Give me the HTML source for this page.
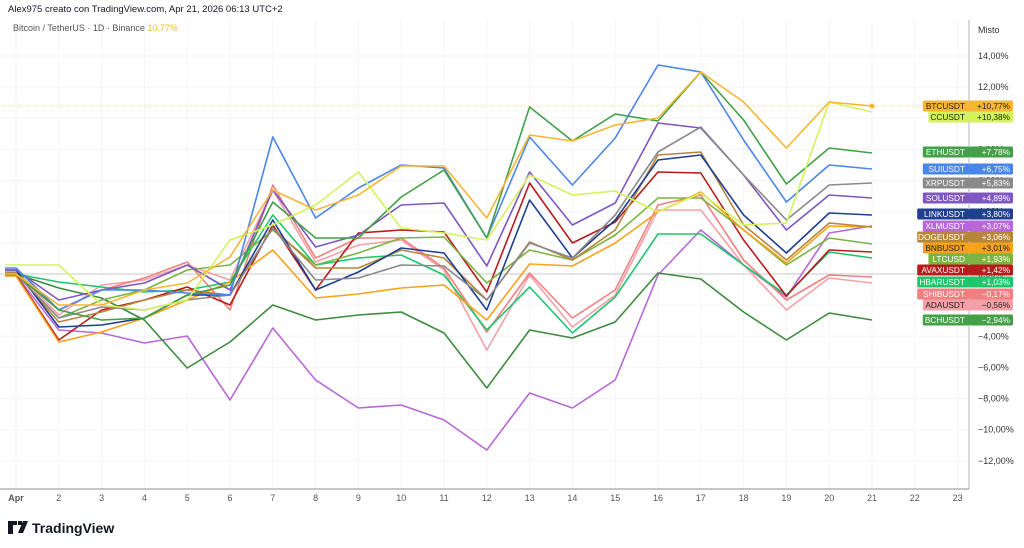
<!DOCTYPE html>
<html><head><meta charset="utf-8"><style>
html,body{margin:0;padding:0;background:#fff;width:1024px;height:548px;overflow:hidden;font-family:"Liberation Sans",sans-serif;}
</style></head><body>
<svg id="s" width="1024" height="548" viewBox="0 0 1024 548" xmlns="http://www.w3.org/2000/svg" font-family="Liberation Sans, sans-serif">
<rect width="1024" height="548" fill="#fff"/>
<g id="grid"></g>
<line x1="0" y1="274" x2="969" y2="274" stroke="#c9c9c9" stroke-width="1"/>
<line x1="0" y1="106" x2="969" y2="106" stroke="#f7dca0" stroke-width="1" stroke-dasharray="1,1"/>
<g id="lines" fill="none" stroke-width="1.6" stroke-linejoin="round"></g>
<circle cx="872" cy="106" r="2.5" fill="#f5b731"/>
<line x1="969" y1="20" x2="969" y2="489" stroke="#b2b5be"/>
<line x1="0" y1="489" x2="969" y2="489" stroke="#8a8e99"/>
<g id="ylab" font-size="9" fill="#333"></g>
<g id="xlab" font-size="9" fill="#555"></g>
<g id="tags" font-size="8.3"></g>
<text x="8" y="12" font-size="9.5" fill="#131722">Alex975 creato con TradingView.com, Apr 21, 2026 06:13 UTC+2</text>
<text x="13" y="31" font-size="9" fill="#555">Bitcoin / TetherUS · 1D · Binance <tspan fill="#f5b731">10,77%</tspan></text>
<text x="978" y="33" font-size="9" fill="#333">Misto</text>
<g transform="translate(8,521)"><path d="M0 0h9v4H5v9H0V0zM10 0h4v4h-4z M15 0h5l-5 12h-5z" fill="#131722"/></g>
<text x="32" y="533" font-size="14" font-weight="bold" fill="#131722">TradingView</text>
</svg>
<script>
const NS="http://www.w3.org/2000/svg";
function el(t,a,p,txt){const e=document.createElementNS(NS,t);for(const k in a)e.setAttribute(k,a[k]);if(txt!==undefined)e.textContent=txt;document.getElementById(p).appendChild(e);return e;}
const X=d=>16+(d-1)*42.8;
const Y=p=>274-p*15.57;
for(let d=1;d<=23;d++)el('line',{x1:X(d),y1:20,x2:X(d),y2:489,stroke:'#f3f5fa'},'grid');
for(let p=-12;p<=14;p+=2){if(p)el('line',{x1:0,y1:Y(p),x2:969,y2:Y(p),stroke:'#f3f5fa'},'grid');
 el('text',{x:978,y:Y(p)+3},'ylab',(p<0?'−':'')+Math.abs(p)+',00%');}
for(let d=1;d<=23;d++)el('text',{x:X(d),y:501,'text-anchor':'middle','font-weight':d==1?'bold':'normal'},'xlab',d==1?'Apr':String(d));
const S=[
['#b868d6',[275,330,333,343,336,400,328,380,408,405,420,450,393,408,380,275,230,265,297,233,226]],
['#3d8b3d',[274,288,298,320,368,342,305,320,315,312,333,388,330,338,322,273,279,312,340,313,320]],
['#f4a0a8',[272,315,285,280,265,280,190,262,245,240,270,350,275,327,295,210,210,265,310,278,283]],
['#f08080',[272,310,290,278,262,310,185,258,238,238,268,332,273,318,290,205,195,260,300,275,277]],
['#1ec66b',[274,282,287,292,290,282,215,265,258,255,275,330,287,333,297,234,234,265,295,252,258]],
['#b71c1c',[275,340,310,300,287,305,225,290,233,230,232,292,183,243,222,172,173,240,296,250,252]],
['#7cb342',[274,318,300,290,270,265,230,265,253,238,237,283,250,260,235,198,198,230,265,238,244]],
['#f7a21b',[276,342,332,318,300,282,250,298,294,288,285,320,264,266,243,212,192,230,263,226,227]],
['#b8863b',[273,322,312,300,290,295,228,268,268,250,258,300,242,260,230,155,152,225,260,223,227]],
['#1f3f8f',[270,327,325,318,295,295,220,290,272,248,253,310,200,258,220,160,155,215,253,213,215]],
['#7e57c2',[270,300,290,283,265,290,190,247,235,205,203,266,172,225,203,123,128,175,230,195,198]],
['#8a8a8a',[274,318,307,310,300,295,228,280,278,265,266,300,243,258,215,152,127,175,220,185,183]],
['#4a86e8',[268,310,290,290,293,295,137,218,188,165,168,238,137,185,138,65,72,140,202,165,169]],
['#43a047',[274,310,320,318,295,285,202,238,238,197,170,238,107,141,114,121,72,120,184,148,153]],
['#d4f35b',[265,265,305,310,300,240,225,205,172,228,233,240,175,195,191,212,193,225,223,102,112]],
['#f5b731',[274,305,305,290,283,257,190,210,195,166,166,218,135,141,125,118,72,102,148,102,106]]
];
for(const [c,v] of S){const pts=[[5,v[0]]].concat(v.map((y,i)=>[X(i+1),y]));el('polyline',{points:pts.map(p=>p.join(',')).join(' '),stroke:c},'lines');}
const T=[['BTCUSDT','+10,77%',106,'#f5b731','#222'],['CCUSDT','+10,38%',117,'#d4f35b','#222'],
['ETHUSDT','+7,78%',152,'#43a047','#fff'],['SUIUSDT','+6,75%',169,'#4a86e8','#fff'],['XRPUSDT','+5,83%',183,'#8a8a8a','#fff'],
['SOLUSDT','+4,89%',198,'#7e57c2','#fff'],['LINKUSDT','+3,80%',214,'#1f3f8f','#fff'],['XLMUSDT','+3,07%',226,'#b868d6','#fff'],
['DOGEUSDT','+3,06%',237,'#b8863b','#fff'],['BNBUSDT','+3,01%',248,'#f7a21b','#222'],['LTCUSD','+1,93%',259,'#7cb342','#fff'],
['AVAXUSDT','+1,42%',270,'#b71c1c','#fff'],['HBARUSDT','+1,03%',282,'#1ec66b','#fff'],['SHIBUSDT','−0,17%',294,'#f08080','#fff'],
['ADAUSDT','−0,56%',305,'#f4a0a8','#222'],['BCHUSDT','−2,94%',320,'#43a047','#fff']];
for(const [n,v,y,c,tc] of T){const w=n.length*5.6+7;
 el('rect',{x:969-w,y:y-5.5,width:w,height:11,fill:c,rx:1.5},'tags');
 el('rect',{x:969,y:y-5.5,width:44,height:11,fill:c,rx:1.5},'tags');
 el('text',{x:965,y:y+3,'text-anchor':'end',fill:tc},'tags',n);
 el('text',{x:1010,y:y+3,'text-anchor':'end',fill:tc},'tags',v);}
</script>
</body></html>
